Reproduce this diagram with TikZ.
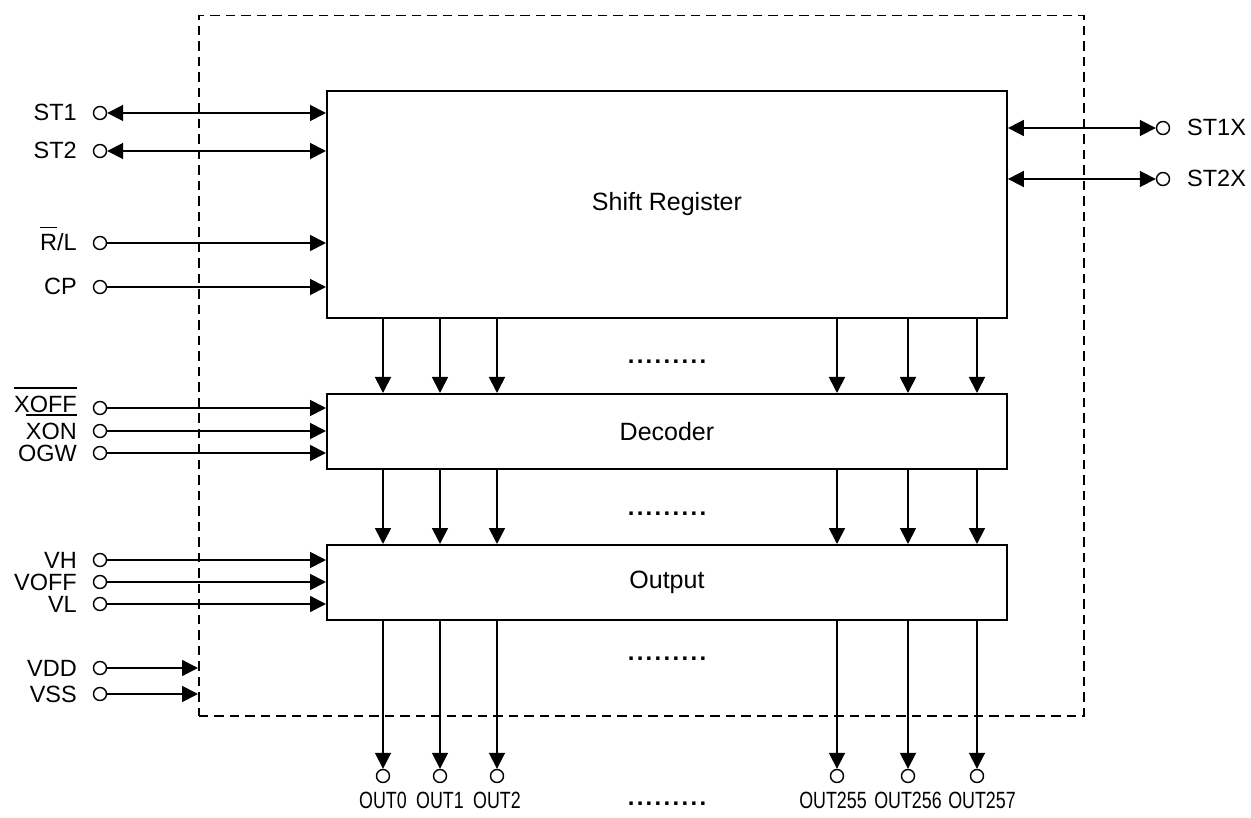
\documentclass[tikz,border=0pt]{standalone}
\usepackage{fontspec}
\setmainfont{Liberation Sans}
\newfontfamily\narrowfont[FakeStretch=0.76]{Liberation Sans}
\usetikzlibrary{arrows.meta}
\newcommand\ob[1]{\leavevmode\vbox{\hrule height 1.8pt \kern 6.5pt \hbox{#1}}}
\newcommand\dotrow{.\kern2.3pt.\kern2.3pt.\kern2.3pt.\kern2.3pt.\kern2.3pt.\kern2.3pt.\kern2.3pt.\kern2.3pt.}
\begin{document}
\begin{tikzpicture}[x=1pt,y=-1pt,
  block/.style={draw, line width=1.9pt, inner sep=0, anchor=north west, font=\fontsize{25}{30}\selectfont},
  chipbox/.style={draw, line width=1.5pt, dash pattern=on 9.5pt off 6pt, inner sep=0, anchor=north west},
  sig/.style={line width=1.8pt},
  tip/.style={-{Triangle[length=16pt,width=16pt]}},
  bitip/.style={{Triangle[length=16pt,width=16pt]}-{Triangle[length=16pt,width=16pt]}},
  pin/.style={circle, draw, line width=1.4pt, minimum size=13pt, inner sep=0, fill=white},
  lbl/.style={font=\fontsize{23.5}{28}\selectfont, inner sep=0},
  olbl/.style={font=\narrowfont\fontsize{23.5}{28}\selectfont, inner sep=0, anchor=base},
  dots/.style={font=\bfseries\fontsize{24}{28}\selectfont, inner sep=0, anchor=base},
]
\useasboundingbox (0,0) rectangle (1251,818);

% chip outline and blocks
\node[chipbox, minimum width=885pt, minimum height=700pt] (chip) at (198,15) {};
\node[block, minimum width=680pt, minimum height=227pt] (sr) at (326,90) {Shift Register};
\node[block, minimum width=680pt, minimum height=75pt] (dec) at (326,393) {Decoder};
\node[block, minimum width=680pt, minimum height=75pt] (op) at (326,544) {Output};

% left pins
\foreach \n/\y/\t in {st1/113/ST1, st2/151/ST2, rl/243/{\ob{R}/L}, cp/287/CP,
    xon/431/{\ob{XON}}, ogw/453/OGW, vh/560/VH, voff/582/VOFF, vl/604/VL, vdd/668/VDD, vss/694/VSS}{
  \node[pin] (\n) at (100,\y) {};
  \node[lbl, anchor=base east] (\n l) at (77,\y+8) {\t};
}
\node[pin] (xoff) at (100,408) {};
\node[lbl, anchor=base east] (xoff l) at (77,412) {\ob{XOFF}};

\draw[sig, bitip] (st1) -- (sr.west |- st1);
\draw[sig, bitip] (st2) -- (sr.west |- st2);
\draw[sig, tip] (rl) -- (sr.west |- rl);
\draw[sig, tip] (cp) -- (sr.west |- cp);
\foreach \n in {xoff, xon, ogw}{ \draw[sig, tip] (\n) -- (dec.west |- \n); }
\foreach \n in {vh, voff, vl}{ \draw[sig, tip] (\n) -- (op.west |- \n); }
\foreach \n in {vdd, vss}{ \draw[sig, tip] (\n) -- (chip.west |- \n); }

% right pins
\foreach \n/\y/\t in {st1x/128/ST1X, st2x/179/ST2X}{
  \node[pin] (\n) at (1163,\y) {};
  \node[lbl, anchor=base west] (\n l) at (1187,\y+8) {\t};
  \draw[sig, bitip] (sr.east |- \n) -- (\n);
}

% internal buses and outputs
\foreach \x/\k/\dx in {383/0/0, 440/1/0, 497/2/0, 837/255/-4, 908/256/0, 977/257/5}{
  \draw[sig, tip] (sr.south -| \x,0) -- (dec.north -| \x,0);
  \draw[sig, tip] (dec.south -| \x,0) -- (op.north -| \x,0);
  \node[pin] (out\k) at (\x,776) {};
  \draw[sig, tip] (op.south -| out\k) -- (out\k);
  \node[olbl] (out\k l) at (\x+\dx,808) {OUT\k};
}

% ellipses
\node[dots] (d1) at (667,364) {\dotrow};
\node[dots] (d2) at (667,515) {\dotrow};
\node[dots] (d3) at (667,660) {\dotrow};
\node[dots] (d4) at (667,805) {\dotrow};
\end{tikzpicture}
\end{document}
